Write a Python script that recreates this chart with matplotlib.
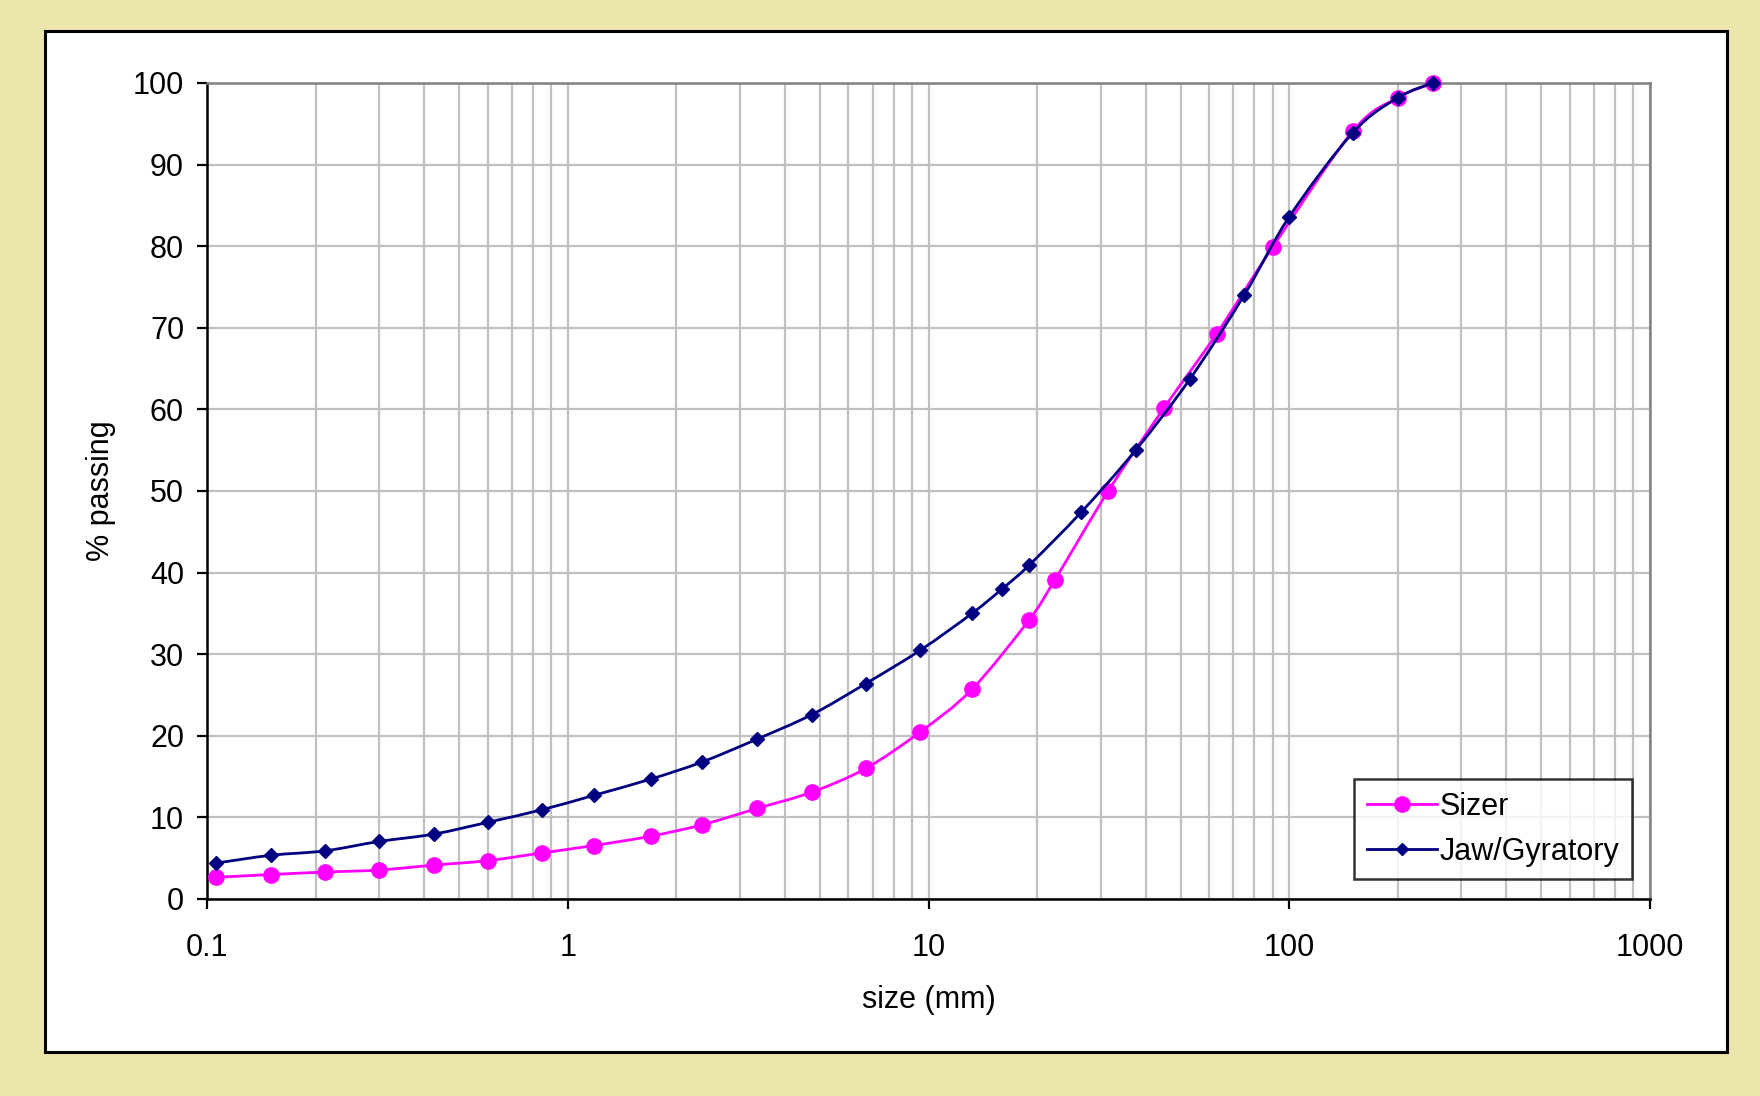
import numpy as np
import matplotlib.pyplot as plt
from matplotlib.patches import Rectangle, PathPatch
from matplotlib.path import Path
from matplotlib.lines import Line2D
from matplotlib.ticker import LogLocator, FixedLocator, FixedFormatter, NullFormatter

plt.rcParams['font.family'] = ['Liberation Sans', 'DejaVu Sans']

# sieve sizes (mm) and cumulative % passing
jaw_size = [0.106, 0.15, 0.212, 0.3, 0.425, 0.6, 0.85, 1.18, 1.7, 2.36, 3.35, 4.75,
            6.7, 9.5, 13.2, 16, 19, 26.5, 37.5, 53, 75, 100, 150, 200, 250]
jaw_pass = [4.4, 5.35, 5.9, 7.05, 7.95, 9.4, 10.95, 12.7, 14.7, 16.8, 19.6, 22.6,
            26.4, 30.5, 35.0, 38.0, 40.9, 47.4, 55.0, 63.7, 74.0, 83.6, 93.9, 98.2, 100]

sizer_size = [0.106, 0.15, 0.212, 0.3, 0.425, 0.6, 0.85, 1.18, 1.7, 2.36, 3.35, 4.75,
              6.7, 9.5, 13.2, 19, 22.4, 31.5, 45, 63, 90, 150, 200, 250]
sizer_pass = [2.65, 3.0, 3.3, 3.55, 4.15, 4.7, 5.65, 6.55, 7.7, 9.1, 11.1, 13.1,
              16.0, 20.5, 25.7, 34.2, 39.1, 50.0, 60.2, 69.3, 79.9, 94.1, 98.2, 100]

x_ticks = [0.1, 1, 10, 100, 1000]
x_labels = ['0.1', '1', '10', '100', '1000']

SIZER_C = '#FF00FF'
JAW_C = '#000080'


def smooth_path(xs, ys):
    # Excel-style smoothed line: cubic Bezier through the points,
    # control points built in (log x, y) space
    lx = np.log10(xs)
    y = np.asarray(ys, dtype=float)
    n = len(lx)
    verts = [(xs[0], y[0])]
    codes = [Path.MOVETO]
    for i in range(n - 1):
        i0 = max(i - 1, 0)
        i3 = min(i + 2, n - 1)
        c1x = lx[i] + (lx[i + 1] - lx[i0]) / 6
        c1y = y[i] + (y[i + 1] - y[i0]) / 6
        c2x = lx[i + 1] - (lx[i3] - lx[i]) / 6
        c2y = y[i + 1] - (y[i3] - y[i]) / 6
        verts += [(10 ** c1x, c1y), (10 ** c2x, c2y), (xs[i + 1], y[i + 1])]
        codes += [Path.CURVE4] * 3
    return Path(verts, codes)


W, H = 1760, 1096
fig = plt.figure(figsize=(W / 100, H / 100), dpi=100)
fig.patch.set_facecolor('#ECE6AC')

# white chart panel with black border
panel = Rectangle((45 / W, 1 - 1052 / H), (1727 - 45) / W, (1052 - 31) / H,
                  transform=fig.transFigure, facecolor='white', edgecolor='black',
                  linewidth=2.2, zorder=-5)
fig.patches.append(panel)

ax = fig.add_axes([207 / W, 1 - 899 / H, 1443 / W, 816 / H])
ax.set_facecolor('white')

ax.set_xscale('log')
ax.set_xlim(0.1, 1000)
ax.set_ylim(0, 100)

ax.add_patch(PathPatch(smooth_path(sizer_size, sizer_pass), fill=False,
                       edgecolor=SIZER_C, lw=2.0, zorder=3, clip_on=False))
ax.plot(sizer_size, sizer_pass, ls='none', marker='o', ms=11, color=SIZER_C,
        zorder=3, clip_on=False)
ax.add_patch(PathPatch(smooth_path(jaw_size, jaw_pass), fill=False,
                       edgecolor=JAW_C, lw=2.0, zorder=4, clip_on=False))
ax.plot(jaw_size, jaw_pass, ls='none', marker='D', ms=7.5, color=JAW_C,
        zorder=4, clip_on=False)

ax.xaxis.set_major_locator(FixedLocator(x_ticks))
ax.xaxis.set_major_formatter(FixedFormatter(x_labels))
ax.xaxis.set_minor_locator(LogLocator(base=10, subs=range(2, 10)))
ax.xaxis.set_minor_formatter(NullFormatter())
ax.set_yticks(range(0, 101, 10))

ax.grid(True, which='both', axis='x', color='#C0C0C0', lw=1.6)
ax.grid(True, which='major', axis='y', color='#C0C0C0', lw=1.6)
ax.set_axisbelow(True)

ax.tick_params(axis='both', which='major', direction='out', length=7.5, width=1.6,
               labelsize=22, color='black')
ax.tick_params(axis='x', which='minor', length=0)
ax.tick_params(axis='x', pad=17)
ax.tick_params(axis='y', pad=9)

for side in ['left', 'bottom']:
    ax.spines[side].set_color('black')
    ax.spines[side].set_linewidth(1.8)
for side in ['top', 'right']:
    ax.spines[side].set_color('#808080')
    ax.spines[side].set_linewidth(1.8)

ax.set_xlabel('size (mm)', fontsize=22, labelpad=16)
ax.set_ylabel('% passing', fontsize=22, labelpad=12)

handles = [Line2D([], [], color=SIZER_C, lw=2.0, marker='o', ms=11),
           Line2D([], [], color=JAW_C, lw=2.0, marker='D', ms=6)]
leg = ax.legend(handles, ['Sizer', 'Jaw/Gyratory'], loc='lower right',
                bbox_to_anchor=(0.9875, 0.0245), borderaxespad=0,
                fontsize=22, frameon=True, fancybox=False, handlelength=2.3,
                handletextpad=0.1, borderpad=0.4, labelspacing=0.5)
leg.get_frame().set_edgecolor('black')
leg.get_frame().set_linewidth(1.8)

fig.savefig('out.png', dpi=100, facecolor=fig.get_facecolor())
